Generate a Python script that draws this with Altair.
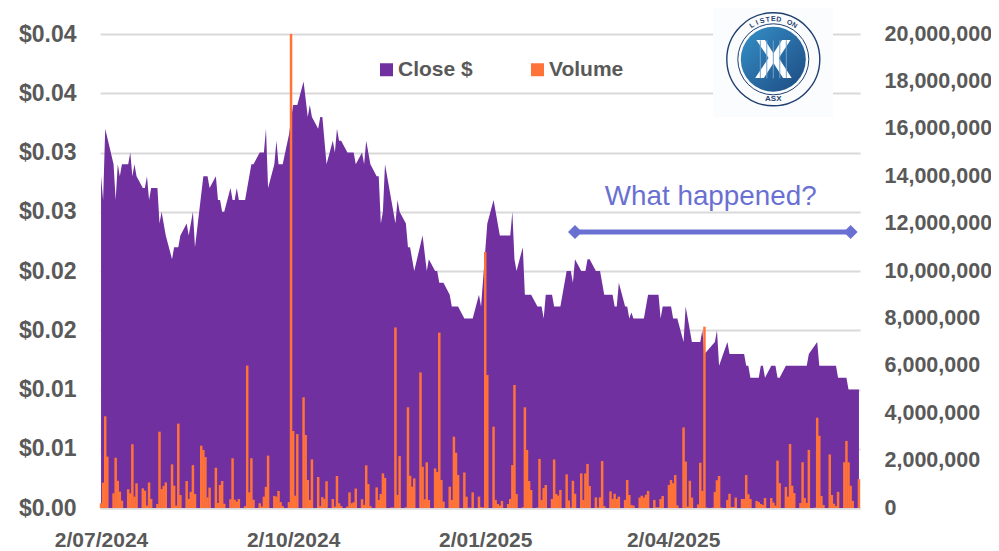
import math
import altair as alt
import pandas as pd

START = pd.Timestamp("2024-07-02")
END = pd.Timestamp("2025-06-30")

close_day = [0,1,2,6,7,8,9,10,13,14,15,16,17,20,21,22,23,24,27,28,29,31,34,35,37,38,41,42,44,45,47,49,51,52,55,56,57,58,59,
 62,63,64,65,66,69,72,73,76,78,79,80,83,84,85,87,90,92,94,97,99,100,101,104,105,106,108,111,112,113,114,115,118,121,122,
 125,126,127,129,132,133,134,135,136,141,142,143,146,147,148,150,154,156,157,160,161,162,164,167,168,171,174,178,181,182,
 185,188,191,196,197,198,199,202,203,206,209,211,212,213,216,217,220,223,225,226,227,230,232,233,234,237,239,241,245,246,
 247,248,251,252,253,254,255,260,262,267,268,269,273,274,276,279,280,283,287,288,289,294,295,296,300,301,308,309,310,311,
 315,316,317,318,321,323,324,325,328,338,339,343,344,352,353,357,358,363]
close_value = [.028,.026,.032,.029,.026,.029,.028,.029,.029,.030,.028,.029,.028,.027,.027,.028,.026,.027,.027,.024,.025,.023,.021,.022,.022,.023,.024,.023,.025,.022,.025,.028,.028,.027,.028,.026,.026,.025,.025,
 .027,.026,.026,.027,.026,.026,.029,.029,.030,.030,.032,.027,.029,.031,.029,.029,.0315,.034,.034,.036,.033,.034,.033,.032,.033,.033,.029,.031,.030,.032,.031,.031,.030,.030,.029,
 .030,.029,.031,.029,.028,.028,.024,.025,.029,.024,.026,.025,.024,.022,.022,.020,.023,.020,.021,.020,.020,.019,.019,.018,.017,.017,.016,.016,.018,.017,
 .024,.026,.023,.023,.025,.021,.020,.022,.018,.018,.017,.017,.016,.018,.018,.017,.017,.020,.020,.019,.021,.020,.020,.021,.021,.020,.020,.018,.018,.017,
 .017,.019,.017,.017,.016,.0165,.016,.016,.018,.018,.016,.017,.017,.016,.016,.014,.017,.014,.014,.015,.013,.014,.015,.012,.014,.013,.013,.012,.012,.011,
 .011,.012,.012,.011,.012,.012,.011,.011,.012,.012,.013,.014,.012,.012,.011,.011,.010,.010]

volume_millions = [
 .20,1.07,3.87,2.17,
 .62,2.12,1.15,.69,.31,
 .79,.62,2.69,.48,1.04,
 .83,.73,.10,1.08,.38,
 .17,3.22,.80,.93,1.08,
 1.84,.94,.10,3.56,.55,
 1.14,.38,.68,1.81,.59,
 2.63,2.45,2.15,.45,.86,
 1.70,.21,.97,1.14,.18,
 .37,2.10,.35,.27,.38,
 .08,6.01,.66,2.10,.35,
 .20,.06,.48,.89,2.21,
 .51,.48,.72,.25,.08,
 .25,20.0,3.25,.52,3.12,
 4.67,3.08,1.18,.34,2.05,
 1.31,.08,.46,.38,1.13,
 .38,.06,1.35,.20,.08,
 .06,.66,.20,.24,.82,
 .37,.13,1.80,1.01,.08,
 .87,.34,.59,1.46,1.27,
 .02,.02,7.62,.55,2.19,
 .03,4.25,1.36,.90,1.25,
 5.72,1.74,.37,1.93,.34,
 1.67,1.52,7.40,1.18,.27,
 .90,.34,3.01,2.33,1.39,
 1.50,.48,.01,.01,.66,
 .48,.04,.02,10.8,5.61,
 3.43,.34,.17,.10,.30,
 .17,.38,1.81,5.19,.59,
 .03,4.25,2.45,1.14,.76,
 .02,2.07,.34,.84,.97,
 .38,2.05,.59,.52,.76,
 1.42,.32,.02,1.15,.60,
 1.46,.34,1.46,1.86,.93,
 .45,.02,.45,1.98,.08,
 .70,.38,.60,.38,.48,
 .34,1.18,.55,.13,.10,
 .44,.52,.44,.56,.72,
 .34,.03,.03,.38,.51,
 .97,1.18,1.05,1.39,.11,
 3.40,1.96,.06,1.15,.44,
 .15,1.91,.72,7.65,.02,
 .02,.68,1.17,1.35,.02,
 .34,.60,.04,.04,.44,
 .38,.38,1.39,.58,.38,
 .30,.25,.17,.13,.42,
 .42,.23,.10,2.00,1.05,
 .89,.48,2.70,.94,.63,
 .21,1.93,.42,.21,2.45,
 .02,3.81,3.05,.51,.13,
 2.26,.55,.18,.08,.68,
 1.93,2.83,1.93,.94,.30,
 1.22]

price_ticks = [0, .005, .01, .015, .02, .025, .03, .035, .04]
volume_ticks = [0, 2e6, 4e6, 6e6, 8e6, 10e6, 12e6, 14e6, 16e6, 18e6, 20e6]
quarter_ticks = [(2024, 7), (2024, 10), (2025, 1), (2025, 4)]
note_days = [227, 359]
note_price = .0233
note_text = "What happened?"

FONT = "Liberation Sans"
GREY = "#595959"
PURPLE = "#7030A0"
ORANGE = "#FF7238"
NOTE = "#6A70D2"

def day_iso(d):
    return (START + pd.Timedelta(days=d)).strftime("%Y-%m-%d")

close_df = pd.DataFrame({"date": [day_iso(d) for d in close_day], "close": close_value, "series": "Close $"})
bdays = pd.bdate_range(START, END)
vol_df = pd.DataFrame({"date": bdays.strftime("%Y-%m-%d"), "volume": [v * 1e6 for v in volume_millions], "series": "Volume"})
note_df = pd.DataFrame({"date": [day_iso(d) for d in note_days], "price": [note_price] * 2})
note_label = pd.DataFrame({"date": [day_iso(292)], "price": [.0256], "t": [note_text]})

x_scale = alt.Scale(domain=[alt.DateTime(year=2024, month=7, date=1, hours=12), alt.DateTime(year=2025, month=6, date=30, hours=12)], padding=0)
y_price = alt.Scale(domain=[0, .04], nice=False)
y_vol = alt.Scale(domain=[0, 20e6], nice=False)
colors = alt.Scale(domain=["Close $", "Volume"], range=[PURPLE, ORANGE])
legend = alt.Legend(title=None, orient="none", legendX=276, legendY=25, direction="horizontal", columns=2,
                    columnPadding=54, symbolType="square", symbolSize=169, symbolStrokeWidth=0, symbolOpacity=1,
                    labelFont=FONT, labelFontSize=21, labelFontWeight="bold", labelColor=GREY, labelOffset=1, padding=0)

x_axis = alt.Axis(title=None, values=[alt.DateTime(year=y, month=m, date=2) for y, m in quarter_ticks], format="%-d/%m/%Y",
                  grid=False, ticks=False, labelFont=FONT, labelFontSize=21, labelFontWeight="bold", labelColor=GREY,
                  labelPadding=21, labelFlush=False, labelOverlap=False, domainColor="#D9D9D9", domainWidth=2)
X = alt.X("date:T", scale=x_scale, axis=x_axis)

area = alt.Chart(close_df).mark_area(interpolate="linear").encode(
    x=X,
    y=alt.Y("close:Q", scale=y_price, axis=alt.Axis(
        title=None, orient="left", values=price_ticks, labelExpr="'$' + format(datum.value + 1e-9, '.2f')",
        grid=True, gridColor="#D9D9D9", gridWidth=2, ticks=False, domain=False, labelPadding=24,
        labelFont=FONT, labelFontSize=23, labelFontWeight="bold", labelColor=GREY)),
    color=alt.Color("series:N", scale=colors, legend=legend),
)
bars = alt.Chart(vol_df).mark_bar(size=2.5).encode(
    x=X,
    y=alt.Y("volume:Q", scale=y_vol, axis=alt.Axis(
        title=None, orient="right", values=volume_ticks, format=",d", grid=False, ticks=False, domain=False,
        labelPadding=24, labelFont=FONT, labelFontSize=21.5, labelFontWeight="bold", labelColor=GREY)),
    color=alt.Color("series:N", scale=colors, legend=legend),
)
note_line = alt.Chart(note_df).mark_line(color=NOTE, strokeWidth=5).encode(
    x=X, y=alt.Y("price:Q", scale=y_price, axis=None))
note_pts = alt.Chart(note_df).mark_point(shape="diamond", filled=True, color=NOTE, size=196, opacity=1).encode(
    x=X, y=alt.Y("price:Q", scale=y_price, axis=None))
note_txt = alt.Chart(note_label).mark_text(color=NOTE, font="Liberation Sans", fontSize=27.8, align="center", baseline="alphabetic").encode(
    x=X, y=alt.Y("price:Q", scale=y_price, axis=None), text="t:N")

one = pd.DataFrame({"a": [0]})
CX, CY = 673.3, 25.3
NAVY = "#1F3F6E"
def circle(d, **kw):
    return alt.Chart(one).mark_point(shape="circle", size=d * d, opacity=1, **kw).encode(x=alt.value(CX), y=alt.value(CY))

logo = [
    alt.Chart(one).mark_rect(color="#FBFCFE").encode(x=alt.value(613), x2=alt.value(733), y=alt.value(-31), y2=alt.value(83)),
    circle(93, filled=False, stroke=NAVY, strokeWidth=1.4),
    circle(71, filled=False, stroke=NAVY, strokeWidth=1),
    circle(65, filled=True, fill=alt.Gradient(gradient="linear", x1=0, y1=0, x2=1, y2=1,
           stops=[alt.GradientStop(offset=0, color="#3490C8"), alt.GradientStop(offset=1, color="#1D4A80")]), strokeWidth=0),
    alt.Chart(one).mark_text(text="X", font="Liberation Sans", fontWeight="bold", fontSize=56, color="white", align="center", baseline="middle").encode(
        x=alt.value(CX), y=alt.value(CY + 2)),
    alt.Chart(one).mark_text(text="ASX", font="Liberation Sans", fontWeight="bold", fontSize=8, color=NAVY, align="center", baseline="middle").encode(
        x=alt.value(CX), y=alt.value(CY + 40)),
]
for k in range(-2, 3):
    logo.append(alt.Chart(one).mark_rule(color="#6FA3CF", strokeWidth=1).encode(
        x=alt.value(CX + k * 6.5), y=alt.value(CY - 19), y2=alt.value(CY + 19)))
for i, ch in enumerate("LISTED ON"):
    if ch == " ":
        continue
    th = (i - 4) * 8.0
    logo.append(alt.Chart(one).mark_text(text=ch, font="Liberation Sans", fontWeight="bold", fontSize=7, color=NAVY,
                                         align="center", baseline="middle", angle=th % 360).encode(
        x=alt.value(CX + 40 * math.sin(math.radians(th))), y=alt.value(CY - 40 * math.cos(math.radians(th)))))

chart = alt.layer(area, bars, note_line, note_pts, note_txt, *logo).resolve_scale(y="independent").properties(
    width=760, height=474,
    autosize=alt.AutoSizeParams(type="none"),
    padding={"left": 92, "top": 26, "right": 131, "bottom": 43},
    background="white",
).configure_view(strokeWidth=0)

chart.save("out.html", embed_options={"renderer": "svg", "actions": False})
